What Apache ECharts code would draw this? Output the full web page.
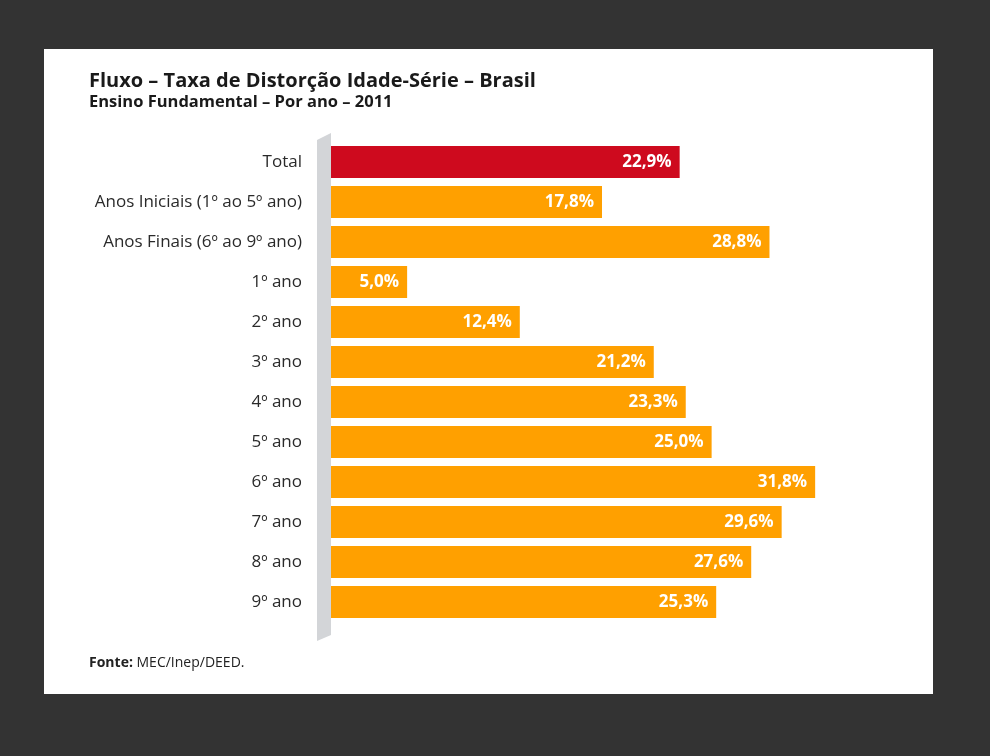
<!DOCTYPE html>
<html>
<head>
<meta charset="utf-8">
<script src="https://cdn.jsdelivr.net/npm/echarts@6/dist/echarts.min.js"></script>
<style>
  html, body { margin: 0; padding: 0; background: #333333; }
  #chart { width: 990px; height: 756px; }
</style>
</head>
<body>
<div id="chart"></div>
<script>
// Age-grade distortion rate by school year, Brazil 2011
const categories = [
  'Total',
  'Anos Iniciais (1º ao 5º ano)',
  'Anos Finais (6º ao 9º ano)',
  '1º ano', '2º ano', '3º ano', '4º ano', '5º ano',
  '6º ano', '7º ano', '8º ano', '9º ano'
];
const values = [22.9, 17.8, 28.8, 5.0, 12.4, 21.2, 23.3, 25.0, 31.8, 29.6, 27.6, 25.3];
const titleText = 'Fluxo – Taxa de Distorção Idade-Série – Brasil';
const subtitleText = 'Ensino Fundamental – Por ano – 2011';
const sourceLabel = 'Fonte:';
const sourceText = 'MEC/Inep/DEED.';

const RED = '#CE0A1E';
const ORANGE = '#FFA000';
const FONT = '"Open Sans", "Noto Sans", sans-serif';

const chart = echarts.init(document.getElementById('chart'), null, { renderer: 'canvas' });

const grid = { left: 331, top: 142, bottom: 134, right: 50 };

const option = {
  backgroundColor: '#333333',
  animation: false,
  title: {
    text: titleText,
    subtext: subtitleText,
    left: 84,
    top: 66,
    itemGap: 3,
    textStyle: { fontFamily: FONT, fontSize: 20, fontWeight: 'bold', color: '#1a1a1a' },
    subtextStyle: { fontFamily: FONT, fontSize: 16.5, fontWeight: 'bold', color: '#1a1a1a' }
  },
  grid: grid,
  xAxis: {
    type: 'value',
    min: 0,
    max: 40,
    show: false
  },
  yAxis: {
    type: 'category',
    data: categories,
    inverse: true,
    axisLine: { show: false },
    axisTick: { show: false },
    axisLabel: {
      margin: 29,
      fontFamily: FONT,
      fontSize: 17,
      color: '#2a2a2a'
    }
  },
  series: [{
    type: 'bar',
    data: values.map((v, i) => ({
      value: v,
      itemStyle: { color: i === 0 ? RED : ORANGE }
    })),
    barWidth: 32,
    label: {
      show: true,
      position: 'insideRight',
      distance: 8,
      fontFamily: FONT,
      fontSize: 17,
      fontWeight: 'bold',
      color: '#ffffff',
      formatter: p => p.value.toFixed(1).replace('.', ',') + '%'
    }
  }]
};

chart.setOption(option);

// White panel, slanted grey axis bar and source note, placed from the grid's pixel frame
const zeroTop = chart.convertToPixel({ xAxisIndex: 0, yAxisIndex: 0 }, [0, 0]);
const zeroBot = chart.convertToPixel({ xAxisIndex: 0, yAxisIndex: 0 }, [0, categories.length - 1]);
const x0 = zeroTop[0];
const yTop = zeroTop[1] - 29;
const yBot = zeroBot[1] + 33;
const depth = 14;

chart.setOption({
  graphic: [
    {
      type: 'rect',
      z: -10,
      silent: true,
      shape: { x: 44, y: 49, width: 889, height: 645 },
      style: { fill: '#ffffff' }
    },
    {
      type: 'polygon',
      z: -5,
      silent: true,
      shape: {
        points: [
          [x0, yTop],
          [x0, yBot],
          [x0 - depth, yBot + 6],
          [x0 - depth, yTop + 7]
        ]
      },
      style: { fill: '#d3d5d8' }
    },
    {
      type: 'text',
      left: 89,
      top: 656,
      style: {
        text: '{b|' + sourceLabel + '} ' + sourceText,
        fontFamily: FONT,
        fontSize: 14,
        fill: '#222222',
        rich: {
          b: { fontFamily: FONT, fontSize: 14, fontWeight: 'bold', fill: '#222222' }
        }
      }
    }
  ]
});
</script>
</body>
</html>
